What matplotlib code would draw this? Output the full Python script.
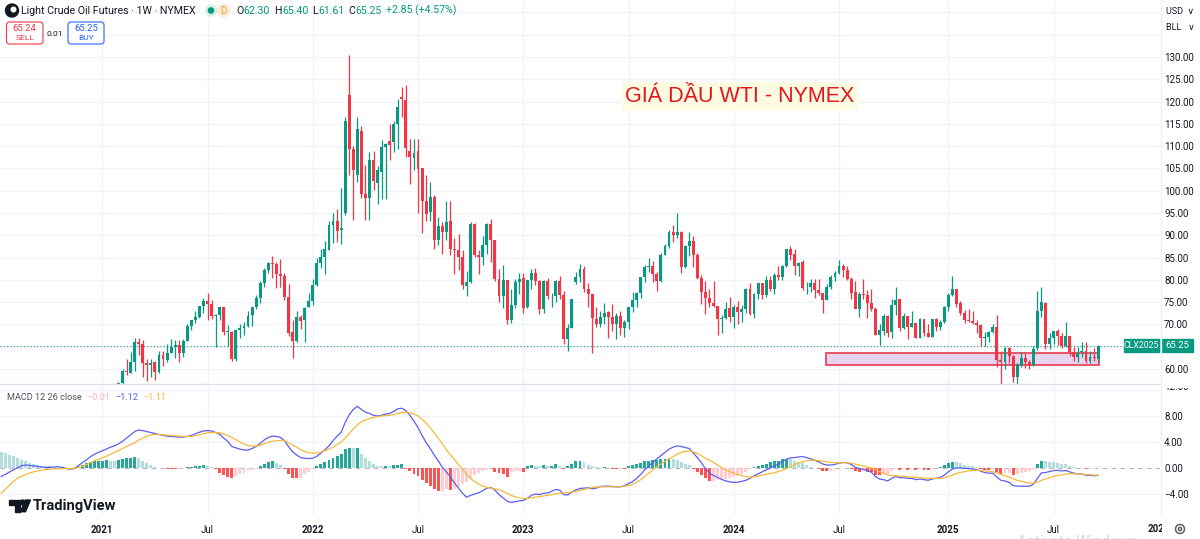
import numpy as np
import pandas as pd
import matplotlib
matplotlib.use('Agg')
import matplotlib.pyplot as plt
from matplotlib.patches import Rectangle, FancyBboxPatch, Circle, Polygon
from matplotlib.transforms import Bbox, TransformedBbox, blended_transform_factory

plt.rcParams['font.family'] = ['Roboto', 'DejaVu Sans']

# Weekly candles WTI, first visible bar = week of 2021-02-01
opens = [
    52.2, 56.9, 59.5, 59.2,
    61.5, 66.1, 65.6, 61.4, 61.0,
    61.5, 59.3, 63.1, 62.1,
    63.6, 64.9, 65.4, 63.6, 66.3,
    69.6, 70.9, 71.6, 74.1,
    75.2, 74.6, 71.8, 72.1,
    73.9, 68.3, 68.4, 62.3, 68.7,
    69.3, 69.7, 72.0, 74.0,
    75.9, 79.4, 82.3, 83.8,
    83.6, 81.3, 80.8, 76.1, 68.2,
    66.3, 71.7, 70.9, 73.8,
    # 2022
    75.2, 78.9, 83.8, 85.1, 86.8,
    92.3, 93.1, 91.1, 95.0,
    121.5, 109.3, 103.5, 113.3,
    99.3, 98.3, 107.0, 101.7,
    104.3, 109.8, 111.2, 110.9, 114.9,
    121.0, 120.4, 108.8, 107.3,
    108.8, 105.1, 97.6, 95.3,
    98.6, 89.0, 92.1, 90.8, 93.1,
    86.9, 86.8, 85.1, 78.7,
    79.5, 92.6, 85.6, 85.1, 87.9,
    92.6, 89.0, 80.1, 76.3,
    80.0, 71.0, 74.3, 79.6,
    # 2023
    80.5, 73.8, 79.9, 81.6, 79.7,
    73.4, 79.7, 76.3, 76.3,
    79.7, 76.7, 66.7, 69.3,
    79.5, 80.7, 82.5, 77.9,
    76.8, 71.3, 70.0, 71.7, 72.7,
    71.7, 70.2, 71.8, 69.2,
    70.6, 73.9, 75.4, 77.1, 80.6,
    82.8, 83.2, 81.3, 79.8,
    85.6, 87.5, 90.8, 90.0,
    90.8, 82.8, 87.7, 88.8, 85.5,
    80.5, 77.2, 75.9, 74.9,
    74.1, 71.2, 71.4, 73.6,
    # 2024
    71.7, 73.8, 72.7, 73.4, 78.0,
    72.3, 76.8, 79.2, 76.5,
    80.0, 78.0, 81.0, 80.6,
    83.2, 86.9, 85.7, 83.1, 83.9,
    78.1, 78.3, 79.2, 77.7,
    77.0, 75.5, 78.5, 80.7,
    81.5, 83.2, 82.2, 80.1, 77.2,
    73.5, 76.8, 76.6, 74.8,
    73.5, 67.7, 68.6, 71.9, 68.2,
    74.4, 75.6, 69.2, 71.8,
    69.5, 70.4, 67.0, 71.2,
    68.0, 67.2, 71.3, 69.5, 70.6,
    # 2025
    74.0, 76.6, 77.9, 74.7,
    72.5, 71.0, 70.7, 70.4,
    69.8, 67.0, 67.2, 68.3, 69.4,
    62.0, 61.5, 64.7, 63.0,
    58.3, 61.0, 62.5, 61.5,
    60.8, 64.6, 73.0, 74.9, 65.5,
    67.0, 68.5, 67.3, 65.2,
    67.3, 63.9, 62.8, 63.7,
    64.0, 61.9, 62.7, 62.3,
]
highs = [
    57.0, 60.0, 62.3, 63.8,
    67.0, 67.0, 66.4, 62.3, 62.3,
    61.9, 64.0, 64.0, 65.5,
    66.7, 66.4, 66.5, 66.7, 70.0,
    71.0, 72.9, 74.1, 76.0,
    77.0, 75.5, 72.3, 74.0,
    73.9, 69.9, 68.5, 69.0, 70.0,
    70.5, 73.0, 74.0, 76.7,
    79.8, 82.7, 84.0, 85.4,
    84.1, 84.6, 81.5, 79.0, 71.0,
    72.9, 72.0, 73.9, 77.0,
    # 2022
    80.2, 84.8, 87.0, 88.8, 93.2,
    94.9, 95.8, 100.5, 116.6,
    130.5, 110.0, 116.6, 114.5,
    105.7, 108.6, 108.8, 105.5,
    111.4, 110.7, 115.0, 115.6, 120.5,
    123.3, 123.7, 111.5, 111.5,
    111.5, 105.2, 103.5, 101.9,
    99.0, 94.2, 93.0, 97.7, 97.6,
    89.4, 90.3, 86.6, 82.0,
    93.0, 92.7, 86.6, 89.9, 92.8,
    93.7, 89.0, 82.5, 83.3,
    80.0, 78.0, 80.3, 81.5,
    # 2023
    81.5, 80.0, 82.4, 82.7, 79.9,
    80.0, 80.4, 77.0, 80.0,
    80.9, 77.4, 70.2, 75.7,
    81.8, 83.5, 83.0, 79.2,
    76.9, 74.0, 73.0, 74.7, 73.0,
    74.5, 72.5, 73.0, 71.0,
    74.0, 77.3, 77.3, 80.6, 83.4,
    84.9, 84.3, 81.8, 86.1,
    88.1, 91.2, 92.4, 95.0,
    91.0, 87.8, 90.8, 89.9, 86.0,
    81.0, 79.7, 78.0, 79.7,
    74.2, 72.2, 75.0, 76.2,
    # 2024
    74.4, 75.3, 74.4, 78.2, 79.3,
    77.0, 79.3, 79.2, 80.9,
    80.9, 81.5, 83.1, 83.4,
    87.0, 87.7, 86.9, 84.0, 84.4,
    79.6, 80.1, 80.1, 80.1,
    77.0, 79.0, 81.0, 82.0,
    84.5, 83.6, 83.0, 80.6, 79.8,
    77.2, 80.2, 77.8, 78.0,
    74.0, 70.0, 72.4, 72.0, 75.6,
    78.5, 75.7, 72.5, 71.8,
    72.9, 70.4, 71.5, 71.3,
    70.2, 71.3, 71.4, 71.0, 74.2,
    # 2025
    77.0, 80.8, 78.0, 75.3,
    73.2, 73.5, 73.0, 71.1,
    70.0, 68.4, 68.6, 70.2, 72.0,
    64.0, 65.0, 64.9, 63.2,
    61.4, 63.9, 63.6, 62.0,
    65.1, 77.6, 78.4, 75.0, 68.0,
    68.6, 68.9, 68.0, 70.5,
    67.5, 65.0, 64.9, 66.0,
    66.0, 64.0, 64.7, 65.4,
]
lows = [
    52.0, 56.6, 58.6, 59.0,
    59.5, 63.1, 58.3, 57.3, 58.1,
    57.6, 59.0, 60.6, 61.5,
    63.5, 62.5, 61.6, 62.6, 66.2,
    68.7, 70.4, 71.5, 72.6,
    71.0, 71.2, 65.0, 71.1,
    67.6, 65.2, 61.7, 61.8, 67.0,
    67.6, 69.5, 69.7, 73.5,
    74.9, 78.5, 81.5, 80.4,
    78.2, 78.5, 75.4, 67.4, 62.4,
    66.1, 68.9, 66.1, 73.8,
    # 2022
    74.3, 78.6, 82.6, 81.2, 86.7,
    88.3, 88.6, 88.0, 94.6,
    103.5, 93.5, 102.0, 98.4,
    93.5, 93.5, 100.2, 97.0,
    98.2, 98.2, 107.0, 108.6, 109.3,
    116.5, 107.6, 101.5, 104.6,
    95.1, 90.6, 93.3, 93.2,
    87.0, 87.8, 85.7, 88.9, 85.6,
    81.2, 82.3, 78.0, 76.3,
    79.4, 85.2, 81.3, 83.3, 85.7,
    84.1, 79.8, 75.1, 73.6,
    70.1, 70.3, 73.6, 76.8,
    # 2023
    72.5, 73.7, 78.0, 78.8, 72.3,
    72.6, 75.7, 73.8, 75.1,
    75.7, 65.7, 64.1, 69.3,
    79.0, 79.5, 77.3, 74.0,
    63.6, 69.4, 69.4, 70.0, 67.0,
    68.5, 66.8, 67.6, 67.1,
    69.0, 72.7, 73.9, 76.0, 79.5,
    81.7, 79.5, 77.6, 79.6,
    85.5, 87.2, 88.6, 89.4,
    81.5, 82.6, 85.3, 82.8, 80.1,
    74.6, 72.4, 73.8, 73.8,
    67.7, 68.0, 71.2, 70.5,
    # 2024
    69.3, 70.1, 70.6, 72.6, 72.0,
    71.4, 75.6, 75.6, 76.1,
    77.5, 76.8, 80.0, 80.0,
    82.9, 84.4, 81.1, 80.8, 77.7,
    76.9, 77.3, 76.0, 76.6,
    72.5, 75.5, 77.9, 79.8,
    81.2, 80.6, 79.9, 75.6, 73.6,
    71.7, 75.7, 71.5, 73.0,
    67.6, 65.3, 67.6, 67.1, 67.0,
    72.1, 68.6, 69.0, 66.7,
    69.4, 66.9, 67.0, 67.5,
    67.2, 67.1, 68.6, 68.8, 70.4,
    # 2025
    73.1, 76.3, 73.8, 72.0,
    70.4, 70.6, 70.1, 68.0,
    65.2, 65.2, 66.1, 68.0, 60.5,
    55.1, 60.0, 61.3, 57.0,
    55.3, 60.4, 60.3, 60.0,
    60.6, 64.3, 71.6, 64.4, 64.5,
    65.5, 65.4, 64.7, 65.0,
    63.0, 61.9, 61.6, 62.8,
    61.4, 61.3, 61.8, 61.61,
]
closes = [
    56.85, 59.47, 59.24, 61.50,
    66.09, 65.61, 61.42, 60.97, 61.45,
    59.32, 63.13, 62.14, 63.58,
    64.90, 65.37, 63.58, 66.32, 69.62,
    70.91, 71.64, 74.05, 75.16,
    74.56, 71.81, 72.07, 73.95,
    68.28, 68.44, 62.32, 68.74, 69.29,
    69.72, 71.97, 73.98, 75.88,
    79.35, 82.28, 83.76, 83.57,
    81.27, 80.79, 76.10, 68.15, 66.26,
    71.67, 70.86, 73.79, 75.21,
    # 2022
    78.90, 83.82, 85.14, 86.82, 92.31,
    93.10, 91.07, 91.59, 115.68,
    109.33, 104.70, 113.90, 99.27,
    98.26, 106.95, 102.07, 104.69,
    109.77, 110.49, 110.28, 115.07, 118.87,
    120.67, 109.56, 107.62, 108.43,
    104.79, 97.59, 94.70, 98.62,
    89.01, 92.09, 90.77, 93.06, 86.87,
    86.79, 85.11, 78.74, 79.49,
    92.64, 85.61, 85.05, 87.90, 92.61,
    88.96, 80.08, 76.28, 79.98,
    71.02, 74.29, 79.56, 80.26,
    # 2023
    73.77, 79.86, 81.64, 79.68, 73.39,
    79.72, 76.34, 76.32, 79.68,
    76.68, 66.74, 69.26, 75.67,
    80.70, 82.52, 77.87, 76.78,
    71.34, 70.04, 71.69, 72.67, 71.74,
    70.17, 71.78, 69.16, 70.64,
    73.86, 75.42, 77.07, 80.58, 82.82,
    83.19, 81.25, 79.83, 85.55,
    87.51, 90.77, 90.03, 90.79,
    82.79, 87.69, 88.75, 85.54, 80.51,
    77.17, 75.89, 74.86, 74.07,
    71.23, 71.43, 73.56, 71.65,
    # 2024
    73.81, 72.68, 73.41, 78.01, 72.28,
    76.84, 79.19, 76.49, 79.97,
    78.01, 81.04, 80.63, 83.17,
    86.91, 85.66, 83.14, 83.85, 78.11,
    78.26, 79.23, 77.72, 76.99,
    75.53, 78.45, 80.73, 81.54,
    83.16, 82.21, 80.13, 77.16, 73.52,
    76.84, 76.65, 74.83, 73.55,
    67.67, 68.65, 71.92, 68.18, 74.38,
    75.56, 69.22, 71.78, 69.49,
    70.38, 67.02, 71.24, 68.00,
    67.20, 71.29, 69.46, 70.60, 73.96,
    # 2025
    76.57, 77.88, 74.66, 72.53,
    71.00, 70.74, 70.40, 69.76,
    67.04, 67.18, 68.28, 69.36, 61.99,
    61.50, 64.68, 63.02, 58.29,
    61.02, 62.49, 61.53, 60.79,
    64.58, 72.98, 74.93, 65.52, 67.00,
    68.45, 67.34, 65.16, 67.33,
    63.88, 62.80, 63.66, 64.01,
    61.87, 62.69, 62.40, 65.25,
]

# MACD 12 26 close, weekly from 2020-07-13
macd_line = [
    -1.3, -1.0, -0.65, -0.3, 0.0, 0.35, 0.45, 0.4, 0.3, 0.25,
    0.15, 0.1, 0.1, 0.15, 0.2, 0.1, -0.05, -0.2, -0.1, 0.3,
    0.8, 1.2, 1.7, 2.1, 2.4, 2.65, 2.9, 3.2, 3.4, 3.7,
    4.1, 4.6, 5.1, 5.6, 5.85, 5.75, 5.6, 5.45, 5.3, 5.15,
    5.0, 4.9, 4.85, 4.8, 4.75, 4.75, 4.85, 5.0, 5.25, 5.5,
    5.7, 5.75, 5.7, 5.45, 5.2, 4.6, 4.1, 3.3, 3.1, 2.9,
    2.75, 2.75, 3.0, 3.3, 3.8, 4.3, 4.7, 4.9, 4.85, 4.7,
    4.2, 3.3, 2.5, 2.0, 1.6, 1.5, 1.45, 1.5, 1.8, 2.3,
    2.8, 3.4, 4.2, 4.9, 5.5, 7.0, 8.2, 9.0, 9.5, 9.0,
    8.6, 8.4, 8.1, 8.0, 8.1, 8.3, 8.4, 8.7, 9.1, 9.2,
    8.8, 8.1, 7.2, 6.2, 5.0, 3.9, 3.0, 2.0, 1.1, 0.1,
    -0.6, -1.4, -2.3, -3.1, -3.9, -4.5, -4.2, -4.0, -3.8, -3.5,
    -3.1, -3.0, -3.4, -4.1, -4.6, -5.1, -5.3, -5.2, -5.05, -5.0,
    -4.7, -4.2, -4.0, -4.1, -3.9, -3.85, -3.6, -3.3, -3.4, -4.1,
    -4.15, -3.7, -3.4, -3.15, -3.1, -3.05, -3.2, -3.1, -2.85, -2.8,
    -2.8, -2.85, -2.9, -2.9, -2.7, -2.4, -2.1, -1.6, -1.0, -0.3,
    0.3, 0.9, 1.4, 1.9, 2.4, 2.9, 3.2, 3.4, 3.3, 3.15,
    3.0, 2.3, 1.6, 0.8, -0.1, -0.8, -1.15, -1.45, -1.75, -2.0,
    -2.15, -2.2, -2.2, -2.05, -1.9, -1.6, -1.2, -0.9, -0.6, -0.3,
    0.0, 0.3, 0.6, 1.0, 1.35, 1.55, 1.6, 1.7, 1.75, 1.6,
    1.4, 1.2, 0.95, 0.6, 0.45, 0.45, 0.55, 0.75, 0.85, 0.8,
    0.55, 0.1, -0.1, -0.2, -0.4, -0.65, -1.3, -1.7, -1.8, -2.0,
    -1.6, -1.3, -1.5, -1.5, -1.6, -1.6, -1.8, -1.7, -1.8, -1.9,
    -1.7, -1.6, -1.45, -1.1, -0.6, -0.15, 0.0, 0.0, -0.05, -0.1,
    -0.15, -0.25, -0.5, -0.7, -0.8, -0.8, -1.4, -1.9, -2.0, -2.2,
    -2.7, -2.8, -2.8, -2.8, -2.8, -2.5, -1.6, -0.75, -0.7, -0.55,
    -0.4, -0.35, -0.45, -0.4, -0.6, -0.8, -0.9, -0.95, -1.1, -1.15,
    -1.2, -1.12,
]
signal_line = [
    -3.9, -3.3, -2.7, -2.1, -1.6, -1.3, -1.0, -0.8, -0.6, -0.45,
    -0.35, -0.25, -0.2, -0.15, -0.12, -0.1, -0.1, -0.1, -0.05, 0.05,
    0.25, 0.5, 0.8, 1.1, 1.3, 1.55, 1.8, 2.1, 2.4, 2.7,
    3.0, 3.3, 3.6, 3.9, 4.3, 4.6, 4.9, 5.1, 5.15, 5.15,
    5.1, 5.05, 5.0, 4.95, 4.9, 4.85, 4.85, 4.85, 4.95, 5.1,
    5.3, 5.4, 5.45, 5.45, 5.4, 5.2, 5.0, 4.7, 4.35, 4.0,
    3.7, 3.45, 3.35, 3.4, 3.5, 3.75, 3.95, 4.1, 4.2, 4.25,
    4.2, 3.9, 3.55, 3.2, 2.8, 2.55, 2.35, 2.3, 2.3, 2.45,
    2.65, 2.9, 3.2, 3.6, 4.0, 4.6, 5.3, 6.0, 6.6, 7.1,
    7.4, 7.6, 7.8, 7.9, 8.0, 8.05, 8.1, 8.2, 8.4, 8.5,
    8.55, 8.5, 8.3, 8.0, 7.5, 6.9, 6.2, 5.4, 4.6, 3.7,
    2.8, 2.0, 1.3, 0.5, -0.2, -1.0, -1.6, -2.1, -2.5, -2.8,
    -2.95, -3.1, -3.2, -3.35, -3.6, -3.9, -4.2, -4.45, -4.6, -4.7,
    -4.7, -4.6, -4.5, -4.4, -4.3, -4.2, -4.1, -4.0, -3.9, -3.85,
    -3.8, -3.7, -3.6, -3.45, -3.3, -3.15, -3.0, -2.95, -2.9, -2.9,
    -2.9, -2.9, -2.9, -2.9, -2.8, -2.7, -2.5, -2.2, -1.8, -1.3,
    -0.8, -0.3, 0.2, 0.6, 1.0, 1.4, 1.75, 2.1, 2.4, 2.55,
    2.6, 2.5, 2.25, 1.9, 1.5, 1.2, 0.85, 0.45, 0.05, -0.3,
    -0.55, -0.8, -1.0, -1.2, -1.35, -1.4, -1.35, -1.25, -1.1, -0.95,
    -0.85, -0.75, -0.55, -0.35, -0.1, 0.2, 0.5, 0.8, 0.95, 1.1,
    1.2, 1.2, 1.15, 1.05, 0.95, 0.85, 0.8, 0.8, 0.8, 0.8,
    0.75, 0.6, 0.45, 0.3, 0.15, 0.0, -0.25, -0.55, -0.8, -1.05,
    -1.15, -1.2, -1.25, -1.3, -1.35, -1.4, -1.45, -1.5, -1.55, -1.6,
    -1.6, -1.6, -1.6, -1.5, -1.3, -1.1, -0.85, -0.7, -0.55, -0.45,
    -0.4, -0.35, -0.4, -0.45, -0.5, -0.6, -0.75, -1.0, -1.2, -1.4,
    -1.65, -1.9, -2.05, -2.2, -2.3, -2.35, -2.2, -1.9, -1.7, -1.5,
    -1.3, -1.15, -1.05, -0.95, -0.9, -0.9, -0.9, -0.95, -1.0, -1.05,
    -1.1, -1.11,
]
macd_hist = [
    2.5, 2.3, 2.0, 1.8, 1.5, 1.3, 1.0, 0.8, 0.65, 0.5,
    0.35, 0.3, 0.25, 0.15, 0.05, -0.05, -0.15, -0.2, -0.1, 0.3,
    0.5, 0.7, 0.9, 1.0, 1.1, 1.15, 1.2, 1.1, 1.0, 1.2,
    1.4, 1.5, 1.6, 1.7, 1.5, 1.1, 0.7, 0.4, 0.2, 0.05,
    -0.05, -0.1, -0.15, -0.2, -0.15, -0.05, 0.1, 0.2, 0.3, 0.35,
    0.4, 0.35, 0.2, -0.2, -0.7, -1.1, -1.4, -1.5, -1.2, -1.0,
    -0.8, -0.5, -0.3, -0.1, 0.3, 0.6, 0.9, 1.0, 0.8, 0.5,
    -0.2, -0.9, -1.5, -1.6, -1.5, -1.0, -0.6, -0.2, 0.3, 0.6,
    0.9, 1.3, 1.6, 1.9, 2.2, 2.9, 3.1, 3.0, 3.05, 2.2,
    1.5, 1.0, 0.6, 0.3, 0.25, 0.3, 0.25, 0.4, 0.5, 0.55,
    -0.2, -0.5, -0.9, -1.3, -1.8, -2.3, -2.8, -3.2, -3.5, -3.5,
    -3.3, -3.4, -3.2, -2.9, -2.5, -2.1, -1.6, -1.1, -0.7, -0.4,
    -0.3, 0.05, -0.6, -0.8, -1.0, -1.4, -0.6, -0.5, -0.5, -0.6,
    0.3, 0.4, 0.3, 0.25, 0.5, 0.3, 0.35, 0.6, 0.3, -0.2,
    0.3, 0.6, 1.0, 1.1, 0.8, 0.5, 0.3, 0.1, 0.05, 0.1,
    0.05, -0.1, -0.15, -0.1, -0.2, 0.3, 0.4, 0.6, 0.8, 1.0,
    1.1, 1.2, 1.25, 1.35, 1.45, 1.5, 1.45, 1.3, 0.9, 0.6,
    0.4, -0.2, -0.65, -1.1, -1.6, -2.0, -2.0, -1.9, -1.8, -1.7,
    -1.6, -1.4, -1.2, -0.85, -0.55, -0.2, 0.15, 0.35, 0.5, 0.65,
    0.85, 1.05, 1.15, 1.35, 1.45, 1.35, 1.1, 0.9, 0.8, 0.5,
    0.2, 0.0, -0.2, -0.45, -0.5, -0.4, -0.25, -0.05, 0.05, 0.0,
    -0.2, -0.5, -0.55, -0.5, -0.55, -0.65, -1.05, -1.15, -1.0, -0.95,
    -0.45, -0.1, -0.25, -0.2, -0.25, -0.2, -0.35, -0.2, -0.25, -0.3,
    -0.1, 0.0, 0.15, 0.4, 0.7, 0.95, 0.85, 0.7, 0.5, 0.35,
    0.25, 0.1, -0.1, -0.25, -0.3, -0.2, -0.65, -0.9, -0.8, -0.8,
    -1.05, -0.9, -0.75, -0.6, -0.5, -0.15, 0.6, 1.15, 1.0, 0.95,
    0.9, 0.8, 0.6, 0.55, 0.3, 0.1, 0.0, 0.0, -0.1, -0.1,
    -0.1, -0.01,
]

zone_low, zone_high = 60.9, 63.5
zone_start, zone_end = '2024-06-08', '2025-09-24'

UP, DOWN = '#089981', '#f23645'
TXT = '#131722'
GRID = '#f0f3fa'
W, H = 1200, 539

origin = pd.Timestamp('2020-07-13')
candle_dates = pd.date_range('2021-02-01', periods=len(closes), freq='7D')
macd_dates = pd.date_range(origin, periods=len(macd_line), freq='7D')
xc = (candle_dates - origin).days / 7
xm = (macd_dates - origin).days / 7


def box(x0, y0, x1, y1):
    return [x0 / W, 1 - y1 / H, (x1 - x0) / W, (y1 - y0) / H]


fig = plt.figure(figsize=(12, 5.39), dpi=100)
fig.patch.set_facecolor('white')
ax = fig.add_axes(box(0, 0, 1160, 384))
axm = fig.add_axes(box(0, 384, 1160, 514), sharex=ax)

# time ticks: first bar of each year and of July
weeks = pd.date_range(origin, '2026-01-31', freq='7D')
tick_x, tick_lab = [], []
for d0, d1 in zip(weeks[:-1], weeks[1:]):
    if d1.month != d0.month and d1.month in (1, 7):
        tick_x.append((d1 - origin).days / 7)
        tick_lab.append(str(d1.year) if d1.month == 1 else 'Jul')
last_x, last_lab = tick_x.pop(), tick_lab.pop()

for a in (ax, axm):
    for s in a.spines.values():
        s.set_visible(False)
    a.set_xticks(tick_x)
    a.grid(axis='x', color=GRID, lw=1)
    a.set_axisbelow(True)
    a.yaxis.tick_right()
    a.tick_params(axis='y', length=0, pad=3, labelsize=7, labelcolor=TXT)
ax.set_xlim(-0.27, 286.29)

# candles
o, h, l, c = map(np.array, (opens, highs, lows, closes))
col = np.where(c >= o, UP, DOWN)
ax.vlines(xc, l, h, colors=col, lw=0.9, zorder=3)
ax.bar(xc, np.maximum(np.abs(c - o), 0.18), bottom=np.minimum(o, c), width=0.72,
       color=col, lw=0, zorder=4)
ax.set_ylim(56.63, 142.79)
yt = [v for v in range(60, 131, 5) if v != 65]   # 65 hidden behind the price label
ax.set_yticks(yt)
ax.set_yticklabels([f'{v:.2f}' for v in yt])
for v in range(60, 141, 5):
    ax.axhline(v, color=GRID, lw=1, zorder=0)
ax.tick_params(axis='x', length=0, labelbottom=False)
ax.axhline(closes[-1], color=UP, lw=0.8, ls=(0, (1, 2)), zorder=2)

xs = (pd.Timestamp(zone_start) - origin).days / 7
xe = (pd.Timestamp(zone_end) - origin).days / 7
ax.add_patch(Rectangle((xs, zone_low), xe - xs, zone_high - zone_low,
                       facecolor='#ead3ee', edgecolor='#e8384f', lw=1.2, zorder=2))

# MACD pane
hist = np.array(macd_hist)
prev = np.r_[hist[0], hist[:-1]]
hcol = np.where(hist >= 0, np.where(hist > prev, '#26a69a', '#b2dfdb'),
                np.where(hist < prev, '#ff5252', '#ffcdd2'))
axm.bar(xm, hist, width=0.72, color=hcol, lw=0, zorder=2)
axm.plot(xm, macd_line, color='#5b5ef0', lw=0.9, zorder=3)
axm.plot(xm, signal_line, color='#f6b93b', lw=0.9, zorder=3)
axm.set_ylim(-7.08, 12.92)
axm.set_yticks([-4, 0, 4, 8])
axm.set_yticklabels(['\u22124.00', '0.00', '4.00', '8.00'])
for v in (-4, 4, 8, 12):
    axm.axhline(v, color=GRID, lw=1, zorder=0)
axm.axhline(0, color='#b2b5be', lw=0.8, ls=(0, (4, 4)), zorder=1)
axm.set_xticklabels(tick_lab)
axm.tick_params(axis='x', length=0, pad=8, labelsize=7, labelcolor=TXT)
for t in axm.get_xticklabels():
    if t.get_text() != 'Jul':
        t.set_fontweight('bold')

# clipped labels at the pane edges
right_clip = TransformedBbox(Bbox([[0, 0], [1162 / W, 1]]), fig.transFigure)
t = fig.text(last_x, 1 - 529 / H, last_lab, fontsize=7, fontweight='bold', color=TXT,
             ha='center', va='center',
             transform=blended_transform_factory(ax.transData, fig.transFigure))
t.set_clip_box(right_clip)
t.set_clip_on(True)
top_clip = TransformedBbox(Bbox([[0, 0], [1, 1 - 387.5 / H]]), fig.transFigure)
t = fig.text(1164 / W, 12.4, '12.00', fontsize=7, color=TXT, va='center',
             transform=blended_transform_factory(fig.transFigure, axm.transData))
t.set_clip_box(top_clip)
t.set_clip_on(True)

# overlay in pixel coordinates
ov = fig.add_axes([0, 0, 1, 1], zorder=10)
ov.set_xlim(0, W)
ov.set_ylim(H, 0)
ov.axis('off')
ov.patch.set_alpha(0)
renderer = fig.canvas.get_renderer()


def chain(x, y, parts, fs):
    # write text pieces one after another, measuring each
    for s, color, gap in parts:
        t = ov.text(x, y, s, fontsize=fs, color=color, va='center')
        x += t.get_window_extent(renderer).width + gap
    return x


ov.plot([0, 1160], [384, 384], color='#e0e3eb', lw=1)
ov.plot([1160.5, 1160.5], [0, 514], color='#eef0f4', lw=1)

# header
ov.add_patch(Circle((12, 10.5), 6.5, color='#131722'))
ov.add_patch(Circle((13.5, 9.5), 2.3, color='white'))
ov.text(21, 10.5, 'Light Crude Oil Futures \u00b7 1W \u00b7 NYMEX', fontsize=7.7, color=TXT, va='center')
ov.add_patch(Circle((211, 10.5), 5.5, color='#d7f0ea'))
ov.add_patch(Circle((211, 10.5), 2.6, color=UP))
ov.add_patch(Circle((223.5, 10.5), 6, color='#fdebd6'))
ov.text(223.5, 10.8, 'D', fontsize=7, color='#f29d38', ha='center', va='center')
chain(236, 10.5, [('O', TXT, 0.5), ('62.30', UP, 4), ('H', TXT, 0.5), ('65.40', UP, 4),
                  ('L', TXT, 0.5), ('61.61', UP, 4), ('C', TXT, 0.5), ('65.25', UP, 4),
                  ('+2.85 (+4.57%)', UP, 0)], 7.6)

ov.add_patch(FancyBboxPatch((6.5, 22), 36.5, 22, boxstyle='round,pad=0,rounding_size=3',
                            fc='white', ec=DOWN, lw=0.8))
ov.text(24.7, 28.5, '65.24', fontsize=6.8, color=DOWN, ha='center', va='center')
ov.text(24.7, 38.5, 'SELL', fontsize=6, color=DOWN, ha='center', va='center')
ov.text(55, 33.5, '0.01', fontsize=6, color=TXT, ha='center', va='center')
ov.add_patch(FancyBboxPatch((68, 22), 36, 22, boxstyle='round,pad=0,rounding_size=3',
                            fc='white', ec='#2962ff', lw=0.8))
ov.text(86, 28.5, '65.25', fontsize=6.8, color='#2962ff', ha='center', va='center')
ov.text(86, 38.5, 'BUY', fontsize=6, color='#2962ff', ha='center', va='center')

ov.text(1166, 11, 'USD  \u2228', fontsize=6.5, color=TXT, va='center')
ov.text(1166, 28, 'BLL   \u2228', fontsize=6.5, color=TXT, va='center')

ov.text(740, 96, 'GI\u00c1 D\u1ea6U WTI - NYMEX', fontsize=15.5, color='#e3161c',
        ha='center', va='center', family=['Liberation Sans', 'DejaVu Sans'],
        bbox=dict(boxstyle='square,pad=0.15', fc='#fdfbe1', ec='none'))

# last price labels
ov.add_patch(Rectangle((1124, 339), 35, 13, color=UP))
ov.text(1141.5, 345.5, 'CLX2025', fontsize=6.3, color='white', ha='center', va='center')
ov.add_patch(Rectangle((1161, 339), 32, 13, color=UP))
ov.text(1177, 345.5, f'{closes[-1]:.2f}', fontsize=6.8, color='white', ha='center', va='center')

# MACD legend
chain(7, 398, [('MACD 12 26 close', '#50535e', 6), ('\u22120.01', '#f8b4c4', 5),
               ('\u22121.12', '#5b5ef0', 5), ('\u22121.11', '#f6b93b', 0)], 6.6)

# TradingView logo
ov.add_patch(Polygon([(8.5, 500), (19.5, 500), (19.5, 511.7), (14.5, 511.7), (14.5, 504.8), (8.5, 504.8)],
                     color='#131722'))
ov.add_patch(Circle((22.6, 502.4), 2.4, color='#131722'))
ov.add_patch(Polygon([(20.5, 511.7), (25.5, 511.7), (30.5, 500), (25.5, 500)], color='#131722'))
ov.text(33, 506, 'TradingView', fontsize=10.6, fontweight='bold', color='#131722', va='center')

# settings icon and watermark
ov.add_patch(Circle((1180, 529), 4.5, fill=False, ec='#50535e', lw=1))
ov.add_patch(Circle((1180, 529), 1.6, fill=False, ec='#50535e', lw=1))
ov.text(1017, 534.5, 'Activate Windows', fontsize=11, color='#d6d6d6', va='top')

fig.savefig('out.png', dpi=100, facecolor='white')
